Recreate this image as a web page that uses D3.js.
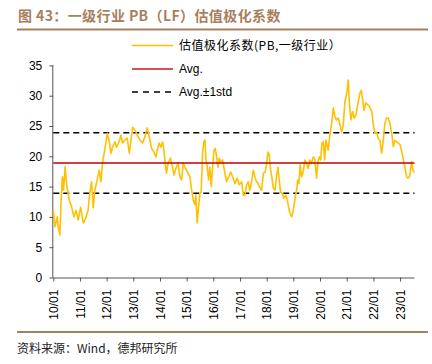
<!DOCTYPE html>
<html><head><meta charset="utf-8">
<script src="https://cdn.jsdelivr.net/npm/d3@7/dist/d3.min.js"></script>
<style>body{margin:0;background:#fff}svg{display:block}</style>
</head><body>
<svg id="c" width="432" height="364"></svg>
<script>
const titleText = "图 43：一级行业 PB（LF）估值极化系数";
const sourceText = "资料来源：Wind，德邦研究所";
const legendLabels = ["估值极化系数(PB,一级行业）", "Avg.", "Avg.±1std"];
const yTicks = [0, 5, 10, 15, 20, 25, 30, 35];
const xTickYears = [2010,2011,2012,2013,2014,2015,2016,2017,2018,2019,2020,2021,2022,2023];
const avgValue = 18.9;
const stdValue = 5.0;
const dates = ["2010-01-01","2010-01-24","2010-02-25","2010-03-08","2010-04-01","2010-04-18","2010-05-06","2010-05-21","2010-06-12","2010-07-01","2010-08-07","2010-09-10","2010-10-10","2010-11-07","2010-12-08",
"2011-01-10","2011-02-15","2011-03-22","2011-04-22","2011-05-15","2011-06-09","2011-07-01","2011-07-24","2011-08-25","2011-09-21","2011-10-15","2011-11-06","2011-11-28","2011-12-22",
"2012-01-10","2012-02-07","2012-03-01","2012-03-22","2012-04-24","2012-05-15","2012-06-21","2012-07-15","2012-08-06","2012-09-09","2012-10-10","2012-11-06","2012-12-01","2012-12-22",
"2013-01-24","2013-02-25","2013-04-01","2013-05-07","2013-06-08","2013-07-10","2013-08-07","2013-09-08","2013-10-10","2013-11-06","2013-11-24","2013-12-21",
"2014-01-15","2014-02-06","2014-02-24","2014-03-12","2014-04-01","2014-04-22","2014-05-24","2014-06-21","2014-07-12","2014-08-06","2014-09-07","2014-10-01","2014-10-24","2014-11-15","2014-12-09",
"2015-01-01","2015-01-22","2015-02-15","2015-03-10","2015-04-01","2015-04-24","2015-05-07","2015-05-25","2015-06-13","2015-07-01","2015-07-19","2015-08-07","2015-08-25","2015-09-09","2015-09-22","2015-10-10","2015-10-28","2015-11-15","2015-12-04","2015-12-22",
"2016-01-10","2016-01-28","2016-02-15","2016-03-04","2016-03-22","2016-04-10","2016-05-07","2016-06-09","2016-07-01","2016-07-22","2016-08-25","2016-09-22","2016-10-24","2016-11-24","2016-12-21",
"2017-01-24","2017-02-15","2017-03-09","2017-04-01","2017-04-22","2017-05-15","2017-06-09","2017-07-01","2017-07-24","2017-08-15","2017-09-07","2017-10-01","2017-10-24","2017-11-15","2017-12-12",
"2018-01-01","2018-01-19","2018-02-06","2018-02-24","2018-03-12","2018-04-01","2018-04-24","2018-05-15","2018-06-04","2018-06-22","2018-07-10","2018-08-01","2018-08-24","2018-09-21","2018-10-10","2018-10-28","2018-11-15","2018-12-09",
"2019-01-01","2019-01-24","2019-02-15","2019-03-01","2019-03-19","2019-04-04","2019-04-24","2019-05-15","2019-06-09","2019-07-01","2019-07-22","2019-08-15","2019-09-09","2019-10-01","2019-10-24","2019-11-15","2019-12-04","2019-12-22",
"2020-01-10","2020-01-28","2020-02-15","2020-03-05","2020-03-22","2020-04-22","2020-05-15","2020-06-09","2020-07-01","2020-07-24","2020-08-15","2020-09-07","2020-10-01","2020-10-24","2020-11-15","2020-12-07",
"2021-01-01","2021-01-22","2021-02-06","2021-02-28","2021-03-22","2021-04-12","2021-05-07","2021-06-07","2021-07-01","2021-07-19","2021-08-07","2021-08-25","2021-09-19","2021-10-10","2021-11-07","2021-12-09",
"2022-01-01","2022-01-24","2022-02-15","2022-03-07","2022-04-01","2022-04-24","2022-05-15","2022-06-07","2022-07-01","2022-07-22","2022-08-15","2022-09-09","2022-10-01","2022-10-22","2022-11-15","2022-12-07",
"2023-01-01","2023-01-24","2023-02-15","2023-03-07","2023-04-01","2023-04-22","2023-05-15","2023-06-07","2023-06-28","2023-07-15"];
const values = [11.1,8.4,10.0,8.5,7.0,12.8,16.6,14.4,18.3,15.5,12.8,11.6,10.0,11.1,9.5,
11.6,9.0,9.8,11.1,13.9,15.8,11.5,14.4,16.1,17.7,15.8,18.9,20.5,22.2,
23.8,22.4,20.5,21.5,22.4,21.5,22.4,23.5,22.2,22.7,23.0,20.5,22.7,24.8,
24.3,23.5,22.7,22.2,23.2,24.7,23.2,21.3,20.7,19.9,21.0,22.2,
21.5,22.4,21.0,18.9,17.2,18.9,19.7,18.2,16.9,18.0,18.9,16.6,16.1,18.9,18.2,
17.7,17.2,16.6,14.4,12.8,12.0,13.6,9.0,11.6,13.9,14.1,20.5,22.4,22.7,19.4,18.2,16.1,18.2,15.0,18.2,
21.0,21.3,19.9,18.2,19.7,19.0,19.4,17.2,15.8,16.4,17.4,16.6,15.5,16.4,15.3,
15.8,13.6,13.6,15.3,15.8,14.4,15.8,17.7,16.6,15.8,15.5,14.8,14.4,17.2,17.4,
18.9,20.7,20.2,17.7,16.6,14.8,14.4,16.6,18.2,16.1,14.1,13.9,13.1,13.6,12.8,11.6,10.6,10.0,
11.1,13.1,14.4,16.1,15.5,18.6,16.6,17.4,19.4,18.9,18.0,19.4,18.9,19.9,19.4,16.4,19.0,19.9,
19.4,22.2,22.4,19.4,22.7,21.0,23.5,25.5,28.0,26.5,26.0,26.3,25.2,24.0,25.2,29.0,
30.4,32.6,28.8,26.0,27.4,26.3,26.8,29.0,30.4,30.9,29.4,27.6,28.8,28.6,28.2,27.4,
25.2,23.8,24.0,23.0,22.6,20.5,22.4,25.4,26.3,26.3,25.5,23.8,21.6,22.6,22.4,22.2,
21.9,20.8,19.4,18.3,16.6,16.4,16.8,19.1,17.7,17.3];

const parse = d3.timeParse("%Y-%m-%d");
const series = dates.map((d, i) => ({date: parse(d), value: values[i]}));

const svg = d3.select("#c");
const brown = "#A67F5D";
const cjk = "'Noto Sans CJK SC', 'Liberation Sans', Arial, sans-serif";
const latin = "'Liberation Sans', Arial, sans-serif";

// title
svg.append("text").attr("x", 18).attr("y", 21).attr("fill", brown)
  .attr("font-family", cjk).attr("font-size", 14).attr("font-weight", "bold")
  .attr("letter-spacing", 0.4).text(titleText);
svg.append("line").attr("x1", 17).attr("x2", 428).attr("y1", 29.5).attr("y2", 29.5)
  .attr("stroke", brown).attr("stroke-width", 2);
svg.append("line").attr("x1", 17).attr("x2", 428).attr("y1", 332).attr("y2", 332)
  .attr("stroke", brown).attr("stroke-width", 2);
svg.append("text").attr("x", 17).attr("y", 353).attr("fill", "#222")
  .attr("font-family", cjk).attr("font-size", 12).text(sourceText);

const x = d3.scaleTime().domain([parse("2010-01-01"), parse("2023-07-18")]).range([53.3, 414.5]);
const y = d3.scaleLinear().domain([0, 35]).range([277.5, 65.4]);

// y axis
const yAxis = svg.append("g").attr("transform", "translate(53.3,0)")
  .call(d3.axisLeft(y).tickValues(yTicks).tickSize(4).tickPadding(7));
yAxis.select(".domain").attr("stroke", "#555").attr("d", `M-0.5,${y(0)}V${y(35)}`);
yAxis.selectAll(".tick line").attr("stroke", "#555");
yAxis.selectAll("text").attr("font-family", latin).attr("font-size", 12).attr("fill", "#000");

// x axis
const xAxis = svg.append("g").attr("transform", `translate(0,${y(0)})`)
  .call(d3.axisBottom(x).tickValues(xTickYears.map(yr => new Date(yr, 0, 1)))
    .tickFormat(d3.timeFormat("%y/%m")).tickSize(4).tickPadding(4));
xAxis.select(".domain").attr("stroke", "#555").attr("d", `M53.3,0.5H414.5`);
xAxis.selectAll(".tick line").attr("stroke", "#555");
xAxis.selectAll("text").attr("font-family", latin).attr("font-size", 12).attr("fill", "#000")
  .attr("transform", "rotate(-90)").attr("text-anchor", "end").attr("dx", "-0.6em").attr("dy", "0.35em")
  .attr("x", -5).attr("y", 0);

// reference lines
const [x0, x1] = x.range();
svg.append("line").attr("x1", x0).attr("x2", x1).attr("y1", y(avgValue + stdValue)).attr("y2", y(avgValue + stdValue))
  .attr("stroke", "#000").attr("stroke-width", 1.5).attr("stroke-dasharray", "6,4");
svg.append("line").attr("x1", x0).attr("x2", x1).attr("y1", y(avgValue - stdValue)).attr("y2", y(avgValue - stdValue))
  .attr("stroke", "#000").attr("stroke-width", 1.5).attr("stroke-dasharray", "6,4");

// series
svg.append("path").datum(series)
  .attr("fill", "none").attr("stroke", "#FFC000").attr("stroke-width", 1.6).attr("stroke-linejoin", "round")
  .attr("d", d3.line().x(d => x(d.date)).y(d => y(d.value)));

svg.append("line").attr("x1", x0).attr("x2", x1).attr("y1", y(avgValue)).attr("y2", y(avgValue))
  .attr("stroke", "#C00000").attr("stroke-width", 1.6);

// legend
const legend = [
  {label: legendLabels[0], color: "#FFC000", dash: null, y: 45.5, font: cjk, ls: 0.5},
  {label: legendLabels[1], color: "#C8161D", dash: null, y: 69, font: latin, ls: 0},
  {label: legendLabels[2], color: "#000", dash: "6,5", y: 92, font: latin, ls: 0}
];
legend.forEach(l => {
  svg.append("line").attr("x1", 132).attr("x2", 173).attr("y1", l.y).attr("y2", l.y)
    .attr("stroke", l.color).attr("stroke-width", 1.6).attr("stroke-dasharray", l.dash);
  svg.append("text").attr("x", 179).attr("y", l.y).attr("dy", "0.36em")
    .attr("font-family", l.font).attr("font-size", 12).attr("letter-spacing", l.ls)
    .attr("fill", "#000").text(l.label);
});
</script>
</body></html>
